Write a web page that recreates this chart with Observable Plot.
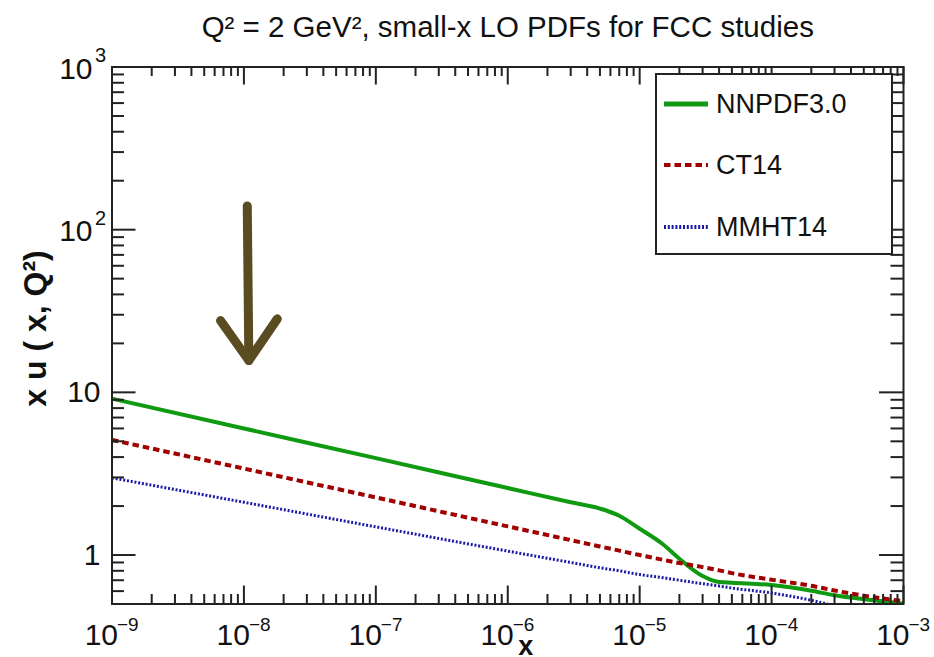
<!DOCTYPE html>
<html><head><meta charset="utf-8">
<script src="https://cdn.jsdelivr.net/npm/d3@7"></script>
<script src="https://cdn.jsdelivr.net/npm/@observablehq/plot@0.6"></script>
<style>
body{margin:0;background:#fff;}
#wrap{position:relative;width:934px;height:657px;font-family:"Liberation Sans",Arial,Helvetica,sans-serif;overflow:hidden;}
#legend{position:absolute;left:655px;top:73px;width:234px;height:178px;border:2px solid #222;background:#fff;}
.row{position:absolute;left:0;height:30px;width:234px;}
.row svg{position:absolute;left:6px;top:9px;}
.row span{position:absolute;left:59px;top:0;font-size:27px;line-height:30px;color:#111;}
</style></head>
<body><div id="wrap"><div id="chart"></div><div id="legend"></div></div>
<script>
// ---- data ----
const xs = [1e-9, 1e-8, 1e-7, 1e-6, 3e-6, 5e-6, 7e-6, 1e-5, 1.5e-5, 2e-5, 3e-5, 4e-5, 5e-5, 1e-4, 2e-4, 3e-4, 5e-4, 1e-3];
const nnpdf  = [9.15, 6.00, 3.94, 2.58, 2.11, 1.93, 1.744, 1.45, 1.165, 0.949, 0.743, 0.683, 0.675, 0.654, 0.603, 0.566, 0.535, 0.504];
const ct14   = [5.10, 3.40, 2.26, 1.50, 1.236, 1.129, 1.064, 1.00, 0.935, 0.893, 0.843, 0.805, 0.774, 0.705, 0.647, 0.605, 0.563, 0.520];
const mmht14 = [2.98, 2.11, 1.49, 1.057, 0.900, 0.835, 0.800, 0.758, 0.725, 0.700, 0.666, 0.645, 0.627, 0.584, 0.527, 0.488, 0.45, 0.40];
const seriesNames = ["NNPDF3.0", "CT14", "MMHT14"];
const seriesColors = ["#0f9a12", "#a00000", "#1a1aa8"];
const seriesDash = [null, "6.5,4", "2,1.8"];
const seriesWidth = [4, 4, 3];

const xMajor = [1e-9, 1e-8, 1e-7, 1e-6, 1e-5, 1e-4, 1e-3];
const xMajorExp = ["−9", "−8", "−7", "−6", "−5", "−4", "−3"];
const yPlain = [1, 10];
const yPlainText = ["1", "10"];
const yPow = [100, 1000];
const yPowExp = ["2", "3"];
const minorMult = [2, 3, 4, 5, 6, 7, 8, 9];
const yMinorLow = [0.5, 0.6, 0.7, 0.8, 0.9];

const titleText = "Q² = 2 GeV², small-x LO PDFs for FCC studies";
const yTitle = "x u ( x, Q²)";
const xTitle = "x";

// hand-drawn arrow annotation (data coordinates)
const arrowShaft = [{x: 1.06e-8, y: 140}, {x: 1.09e-8, y: 15.7}];
const arrowHead = [{x: 6.65e-9, y: 27.6}, {x: 1.09e-8, y: 15.7}, {x: 1.79e-8, y: 28.3}];

// ---- derived tables ----
const series = [nnpdf, ct14, mmht14].map((vals, i) => xs.map((x, j) => ({x, v: vals[j], s: seriesNames[i]})));
const yMajor = yPlain.concat(yPow);
const xMinor = xMajor.slice(0, -1).flatMap(d => minorMult.map(m => d * m));
const yMinor = yMinorLow.concat(yMajor.slice(0, -1).flatMap(d => minorMult.map(m => d * m)));
const xLab = xMajor.map((v, i) => ({v, e: xMajorExp[i]}));
const yPlainLab = yPlain.map((v, i) => ({v, t: yPlainText[i]}));
const yPowLab = yPow.map((v, i) => ({v, e: yPowExp[i]}));

const mL = 111.5, mR = 31, mT = 66.5, mB = 53.5, W = 934, H = 657;
const fh = H - mT - mB, fw = W - mL - mR;
const ink = "#222";
const font = "Liberation Sans, Arial, Helvetica, sans-serif";

const plot = Plot.plot({
  width: W, height: H,
  marginLeft: mL, marginRight: mR, marginTop: mT, marginBottom: mB,
  x: {type: "log", domain: [1e-9, 1e-3], axis: null},
  y: {type: "log", domain: [0.5, 1000], axis: null},
  style: {fontFamily: font, background: "white", overflow: "visible"},
  marks: [
    ...series.map((d, i) => Plot.line(d, {
      x: "x", y: "v", stroke: seriesColors[i], strokeWidth: seriesWidth[i],
      strokeDasharray: seriesDash[i], strokeLinecap: "butt", curve: "monotone-x", clip: true
    })),
    // arrow annotation
    Plot.line(arrowShaft, {x: "x", y: "y", stroke: "#594c20", strokeWidth: 9, strokeLinecap: "round"}),
    Plot.line(arrowHead, {x: "x", y: "y", stroke: "#594c20", strokeWidth: 9, strokeLinecap: "round", strokeLinejoin: "round"}),
    // ticks inside the frame (bottom/top)
    Plot.tickX(xMajor, {x: d => d, insetTop: fh - 18, stroke: ink, strokeWidth: 2}),
    Plot.tickX(xMinor, {x: d => d, insetTop: fh - 9.5, stroke: ink, strokeWidth: 2}),
    Plot.tickX(xMajor, {x: d => d, insetBottom: fh - 18, stroke: ink, strokeWidth: 2}),
    Plot.tickX(xMinor, {x: d => d, insetBottom: fh - 9.5, stroke: ink, strokeWidth: 2}),
    // ticks left/right
    Plot.tickY(yMajor, {y: d => d, insetRight: fw - 24, stroke: ink, strokeWidth: 2}),
    Plot.tickY(yMinor, {y: d => d, insetRight: fw - 12.5, stroke: ink, strokeWidth: 2}),
    Plot.tickY(yMajor, {y: d => d, insetLeft: fw - 24, stroke: ink, strokeWidth: 2}),
    Plot.tickY(yMinor, {y: d => d, insetLeft: fw - 12.5, stroke: ink, strokeWidth: 2}),
    Plot.frame({stroke: ink, strokeWidth: 2}),
    // x tick labels
    Plot.text(xLab, {x: "v", frameAnchor: "bottom", text: d => "10", textAnchor: "end", lineAnchor: "bottom", dx: 6, dy: 40.5, fontSize: 30, fill: "#111"}),
    Plot.text(xLab, {x: "v", frameAnchor: "bottom", text: "e", textAnchor: "start", lineAnchor: "bottom", dx: 5, dy: 27, fontSize: 19, fill: "#111"}),
    // y tick labels
    Plot.text(yPlainLab, {y: "v", frameAnchor: "left", text: "t", textAnchor: "end", lineAnchor: "middle", dx: -11.5, fontSize: 30, fill: "#111"}),
    Plot.text(yPowLab, {y: "v", frameAnchor: "left", text: d => "10", textAnchor: "end", lineAnchor: "middle", dx: -19.5, dy: 2, fontSize: 30, fill: "#111"}),
    Plot.text(yPowLab, {y: "v", frameAnchor: "left", text: "e", textAnchor: "end", lineAnchor: "middle", dx: -6, dy: -11, fontSize: 20, fill: "#111"}),
    // titles
    Plot.text([titleText], {frameAnchor: "top", text: d => d, textAnchor: "middle", lineAnchor: "bottom", dy: -30.5, fontSize: 29.5, fill: "#111"}),
    Plot.text([yTitle], {frameAnchor: "left", text: d => d, rotate: -90, textAnchor: "middle", lineAnchor: "middle", dx: -76, dy: -7, fontSize: 32, fontWeight: "bold", fill: "#111"}),
    Plot.text([xTitle], {frameAnchor: "bottom", text: d => d, textAnchor: "middle", lineAnchor: "bottom", dx: 18, dy: 51, fontSize: 27, fontWeight: "bold", fill: "#111"})
  ]
});
document.getElementById("chart").appendChild(plot);

// ---- legend ----
const legend = document.getElementById("legend");
const rowTops = [14, 75, 137];
seriesNames.forEach((name, i) => {
  const row = document.createElement("div");
  row.className = "row";
  row.style.top = rowTops[i] + "px";
  const dash = seriesDash[i] ? `stroke-dasharray="${seriesDash[i]}"` : "";
  row.innerHTML = `<svg width="46" height="12"><line x1="1" y1="6" x2="45" y2="6" stroke="${seriesColors[i]}" stroke-width="${i === 0 ? 5 : 4}" ${dash}/></svg><span>${name}</span>`;
  legend.appendChild(row);
});
</script></body></html>
